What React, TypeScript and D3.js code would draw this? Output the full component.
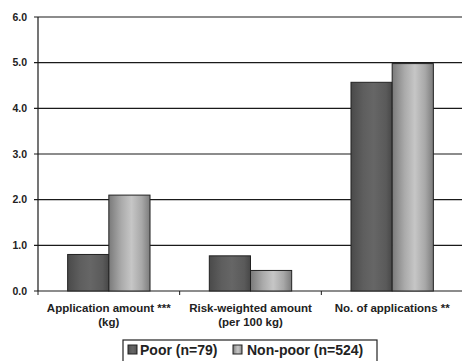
import React from "react";
import * as d3 from "d3";

const categories = ["Application amount ***|(kg)", "Risk-weighted amount|(per 100 kg)", "No. of applications **"];
const seriesNames = ["Poor (n=79)", "Non-poor (n=524)"];
const poorValues = [0.8, 0.77, 4.57];
const nonPoorValues = [2.1, 0.45, 4.98];
const yTicks = [0, 1, 2, 3, 4, 5, 6];

const W = 462, H = 361;
const margin = { left: 38, right: -1, top: 17, bottom: 70 };

export default function App() {
  const x0 = d3.scaleBand<number>().domain(d3.range(categories.length)).range([margin.left, W - margin.right]).paddingInner(0).paddingOuter(0);
  const x1 = d3.scaleBand<number>().domain([0, 1]).range([0, x0.bandwidth()]).paddingInner(0).paddingOuter(0.72);
  const y = d3.scaleLinear().domain([0, 6]).range([H - margin.bottom, margin.top]);
  const series = [poorValues, nonPoorValues];
  const fills = ["url(#gPoor)", "url(#gNon)"];
  const font = "Arial, 'Liberation Sans', Helvetica, sans-serif";

  return (
    <svg width={W} height={H} style={{ position: "absolute", left: 0, top: 0, background: "#fff" }} fontFamily={font}>
      <defs>
        <linearGradient id="gPoor" x1="0" x2="1" y1="0" y2="0">
          <stop offset="0" stopColor="#4a4a4a" />
          <stop offset="0.3" stopColor="#5e5e5e" />
          <stop offset="0.55" stopColor="#666" />
          <stop offset="0.85" stopColor="#5a5a5a" />
          <stop offset="1" stopColor="#474747" />
        </linearGradient>
        <linearGradient id="gNon" x1="0" x2="1" y1="0" y2="0">
          <stop offset="0" stopColor="#7a7a7a" />
          <stop offset="0.3" stopColor="#aaa" />
          <stop offset="0.55" stopColor="#c6c6c6" />
          <stop offset="0.8" stopColor="#a8a8a8" />
          <stop offset="1" stopColor="#7c7c7c" />
        </linearGradient>
      </defs>
      {yTicks.map((t) => (
        <g key={t}>
          <line x1={margin.left - 4} x2={W} y1={y(t)} y2={y(t)} stroke="#1a1a1a" strokeWidth={1.2} />
          <text x={27} y={y(t)} dy="0.35em" textAnchor="end" fontSize={10.5} fontWeight="bold" fill="#222">{t.toFixed(1)}</text>
        </g>
      ))}
      {series.map((vals, si) =>
        vals.map((v, ci) => (
          <rect key={`${si}-${ci}`} x={(x0(ci) ?? 0) + (x1(si) ?? 0)} y={y(v)} width={x1.bandwidth()} height={y(0) - y(v)}
            fill={fills[si]} stroke="#222" strokeWidth={1} />
        ))
      )}
      <line x1={margin.left} x2={margin.left} y1={y(6)} y2={y(0)} stroke="#1a1a1a" strokeWidth={1.2} />
      {categories.map((c, ci) => (
        <line key={"t" + ci} x1={(x0(ci) ?? 0) + x0.bandwidth()} x2={(x0(ci) ?? 0) + x0.bandwidth()} y1={y(0)} y2={y(0) + 4} stroke="#1a1a1a" />
      ))}
      <line x1={margin.left} x2={margin.left} y1={y(0)} y2={y(0) + 4} stroke="#1a1a1a" />
      {categories.map((c, ci) => (
        <text key={"c" + ci} textAnchor="middle" fontSize={11.5} fontWeight="bold" fill="#222">
          {c.split("|").map((line, li) => (
            <tspan key={li} x={(x0(ci) ?? 0) + x0.bandwidth() / 2} y={312 + li * 14}>{line}</tspan>
          ))}
        </text>
      ))}
      <g>
        <rect x={123} y={340} width={254} height={30} fill="#fff" stroke="#222" strokeWidth={1.2} />
        <rect x={128} y={345} width={9} height={9} fill={fills[0]} stroke="#222" />
        <text x={140} y={354.5} fontSize={14} fontWeight="bold" fill="#222">{seriesNames[0]}</text>
        <rect x={233} y={345} width={9} height={9} fill={fills[1]} stroke="#222" />
        <text x={247} y={354.5} fontSize={14} fontWeight="bold" fill="#222">{seriesNames[1]}</text>
      </g>
    </svg>
  );
}
